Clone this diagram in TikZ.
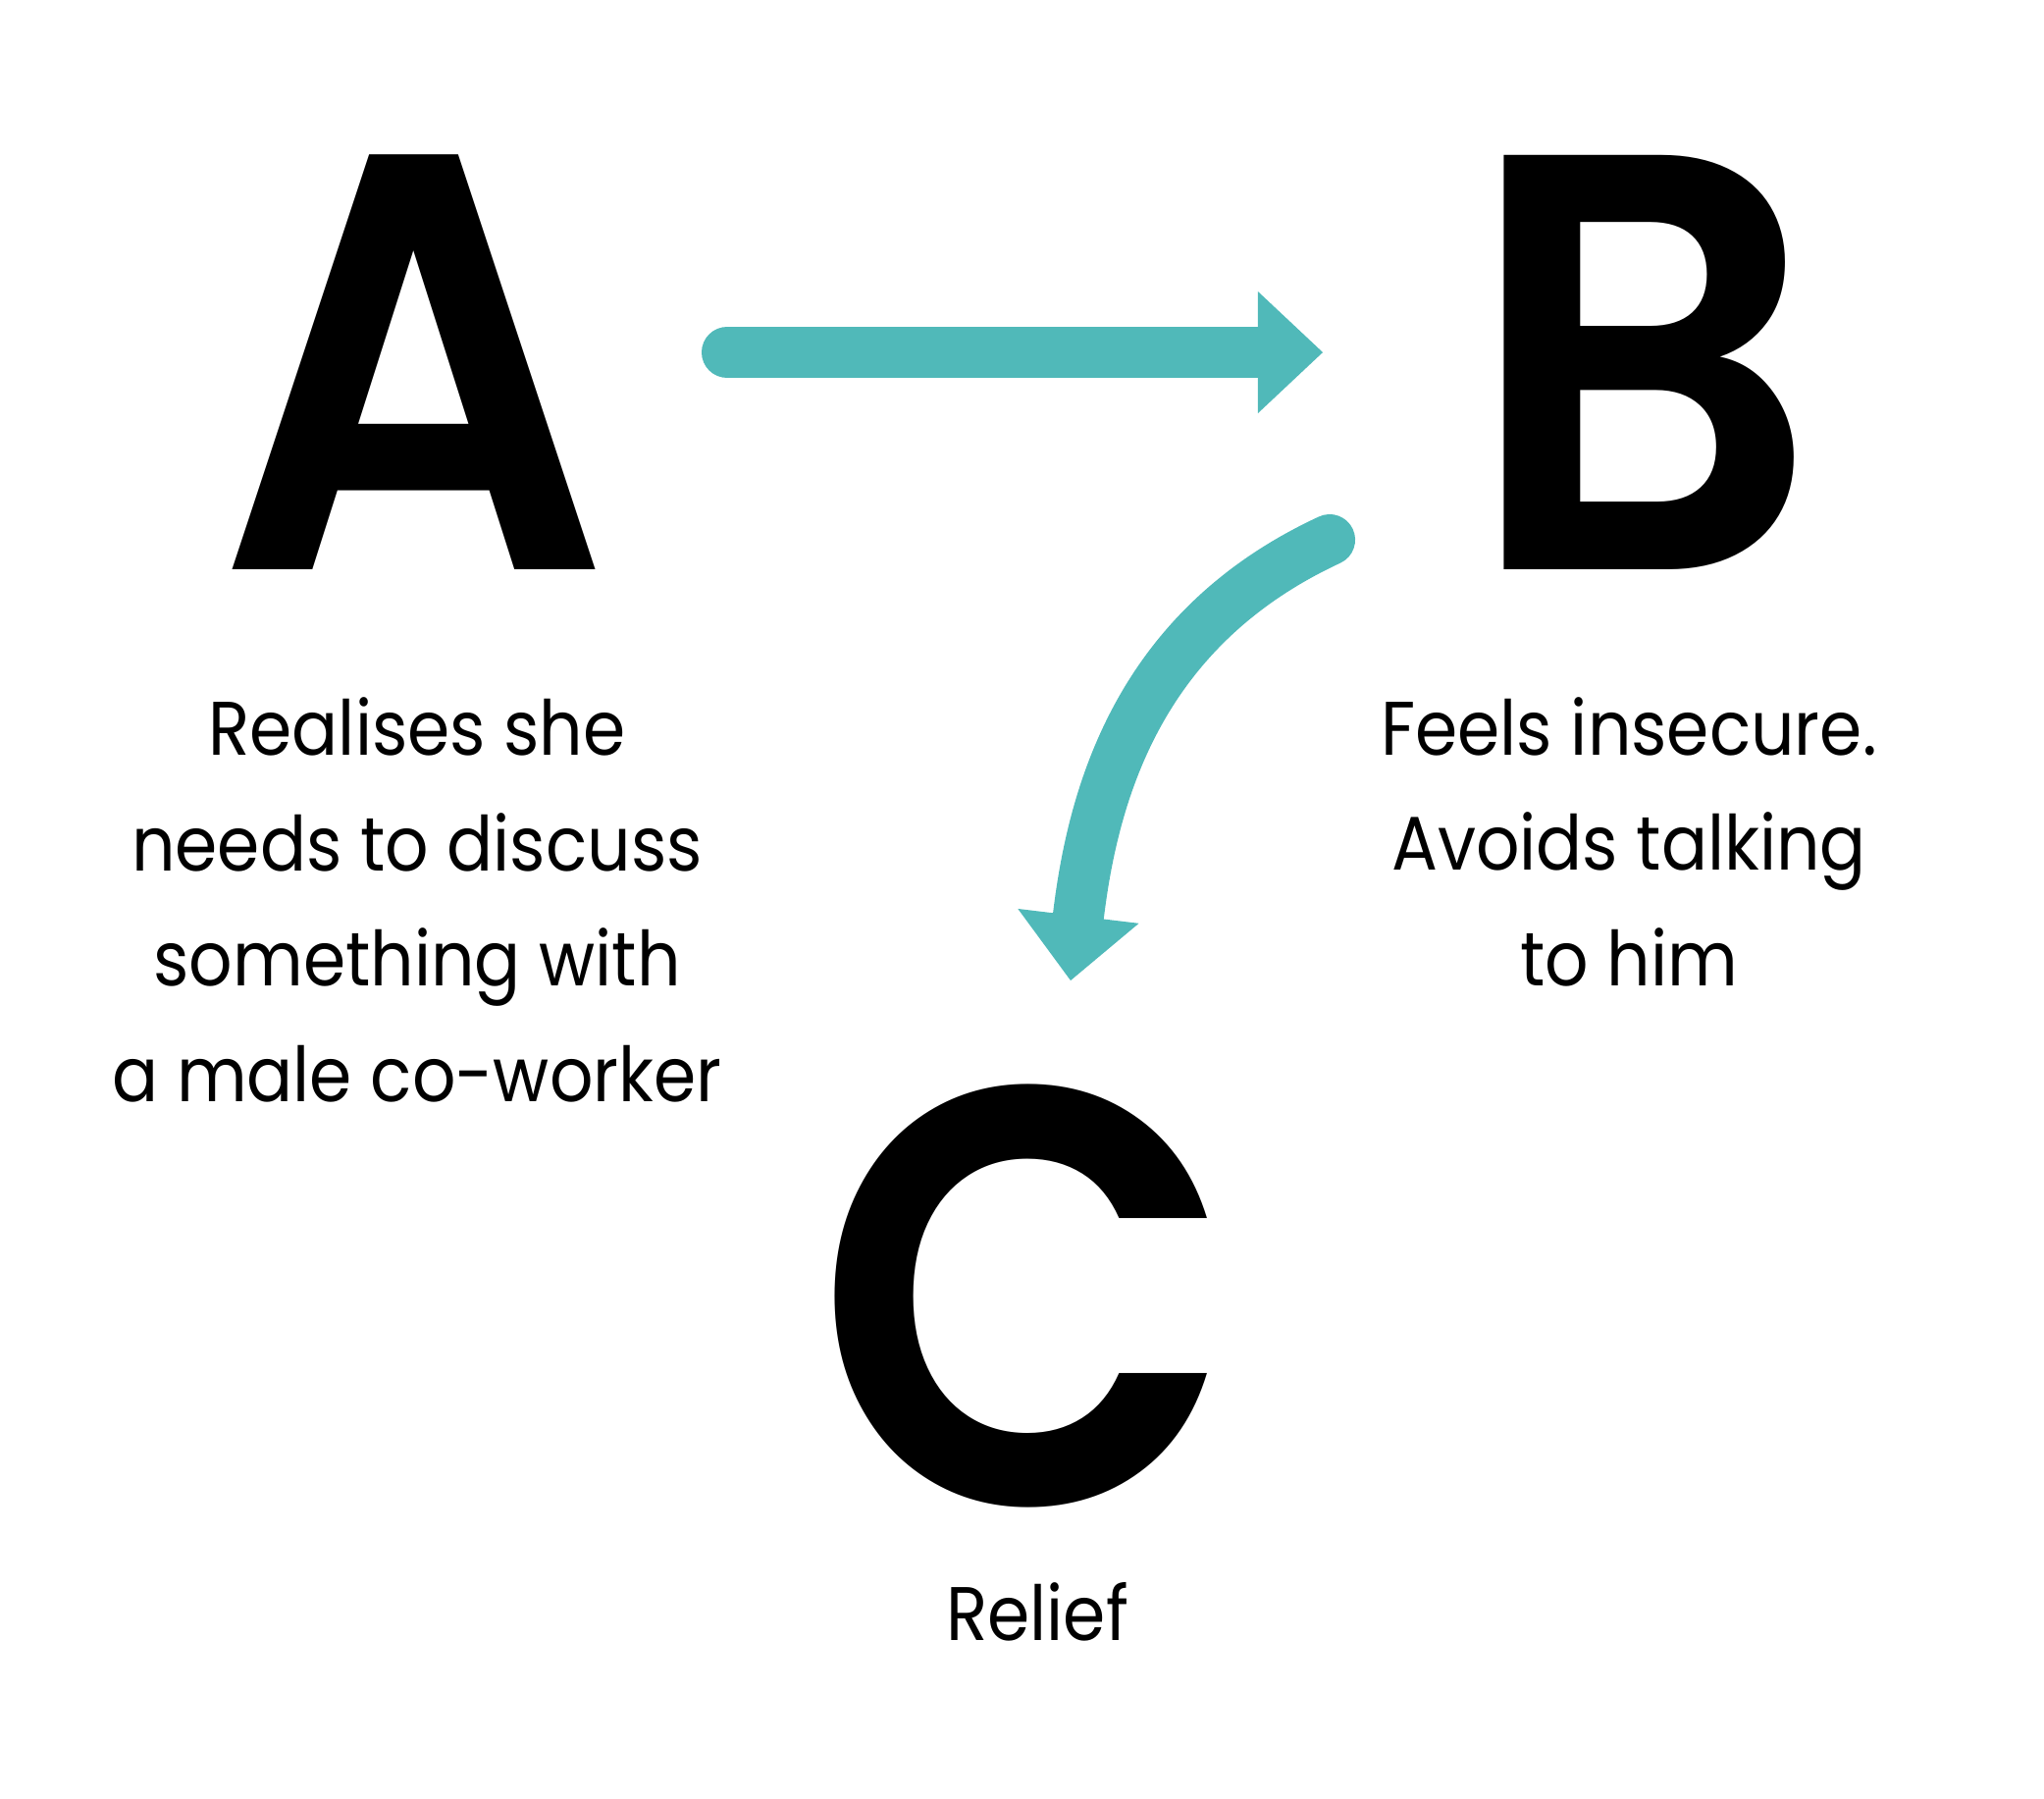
\documentclass[tikz,border=0pt]{standalone}
\usepackage{fontspec}
\setmainfont{Poppins}[FakeStretch=0.9]
\newfontfamily\letterfont{Poppins}[UprightFont=* SemiBold, FakeStretch=0.92]
\usetikzlibrary{arrows.meta}
\definecolor{flowteal}{RGB}{80,185,185}

\begin{document}
\begin{tikzpicture}[
    x=0.01cm, y=-0.01cm,
    letter/.style={inner sep=0pt, anchor=base, font=\fontsize{172}{172}\selectfont\letterfont},
    caption/.style={inner sep=0pt, anchor=base, align=center, font=\fontsize{22}{33.4}\selectfont},
    flow/.style={draw=flowteal, line width=14.8pt, line cap=round,
      -{Triangle[length=18.8pt, width=35.3pt, line width=0pt]}}
  ]
  \useasboundingbox (0,0) rectangle (2083,1832);

  % the three letters
  \node[letter] (lA) at (422,580) {A};
  \node[letter] (lB) at (1673,580) {B};
  \node[letter] (lC) at (1045,1532) {C};

  % captions (base = last line)
  \node[caption] (capA) at (425,1122) {Realises she\\needs to discuss\\something with\\a male co-worker};
  \node[caption] (capB) at (1660,1004) {Feels insecure.\\Avoids talking\\to him};
  \node[caption] (capC) at (1057,1671) {Relief};

  % arrow ends
  \coordinate (a-out) at (741,359);
  \coordinate (b-in) at (1348,359);
  \coordinate (b-out) at (1355,550);
  \coordinate (c-in) at (1091,999);

  \draw[flow] (a-out) -- (b-in);
  \draw[flow] (b-out) .. controls (1165,638) and (1115,800) .. (c-in);
\end{tikzpicture}
\end{document}
